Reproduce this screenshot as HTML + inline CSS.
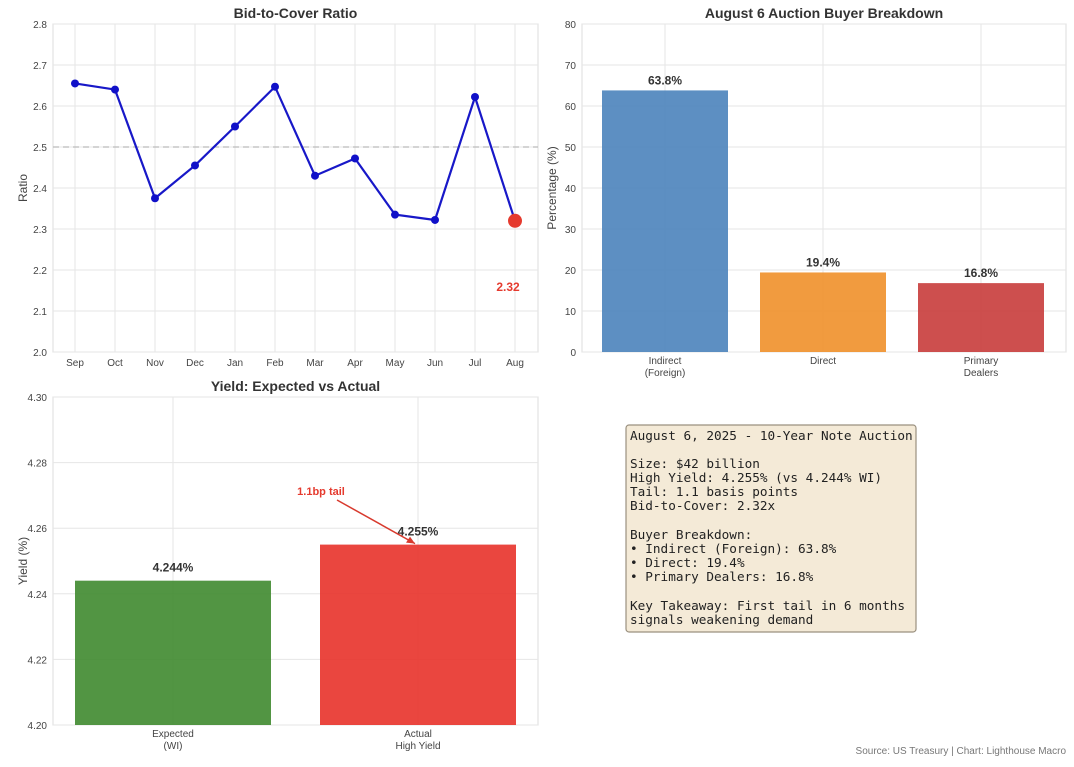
<!DOCTYPE html>
<html><head><meta charset="utf-8"><style>
html,body{margin:0;padding:0;background:#fff}
svg{display:block;font-family:"Liberation Sans",sans-serif}
</style></head><body>
<svg id="root" width="1074" height="767" viewBox="0 0 1074 767" xmlns="http://www.w3.org/2000/svg">
<rect width="1074" height="767" fill="#fff"/>
<g id="p1"></g>
<g id="p2"></g>
<g id="p3"></g>
<g>
<rect x="626" y="425" width="290" height="207" rx="3" fill="#f4ead7" stroke="#9a907f" stroke-width="1.2"/>
<text font-family="'DejaVu Sans Mono','Liberation Mono',monospace" font-size="12.7" fill="#222">
<tspan x="630" y="440">August 6, 2025 - 10-Year Note Auction</tspan>
<tspan x="630" y="468">Size: $42 billion</tspan>
<tspan x="630" y="482">High Yield: 4.255% (vs 4.244% WI)</tspan>
<tspan x="630" y="496">Tail: 1.1 basis points</tspan>
<tspan x="630" y="510">Bid-to-Cover: 2.32x</tspan>
<tspan x="630" y="539">Buyer Breakdown:</tspan>
<tspan x="630" y="553">• Indirect (Foreign): 63.8%</tspan>
<tspan x="630" y="567">• Direct: 19.4%</tspan>
<tspan x="630" y="581">• Primary Dealers: 16.8%</tspan>
<tspan x="630" y="610">Key Takeaway: First tail in 6 months</tspan>
<tspan x="630" y="624">signals weakening demand</tspan>
</text>
</g>
<text x="1066" y="754" text-anchor="end" font-size="10" fill="#777">Source: US Treasury | Chart: Lighthouse Macro</text>
</svg>
<script>
const months=["Sep","Oct","Nov","Dec","Jan","Feb","Mar","Apr","May","Jun","Jul","Aug"];
const btc=[2.655,2.64,2.375,2.455,2.55,2.647,2.43,2.472,2.335,2.322,2.622,2.32];
const btcTicks=[2.0,2.1,2.2,2.3,2.4,2.5,2.6,2.7,2.8];
const buyers=["Indirect\n(Foreign)","Direct","Primary\nDealers"];
const buyerPct=[63.8,19.4,16.8];
const pctTicks=[0,10,20,30,40,50,60,70,80];
const yieldCats=["Expected\n(WI)","Actual\nHigh Yield"];
const yieldVals=[4.244,4.255];
const yieldTicks=[4.20,4.22,4.24,4.26,4.28,4.30];
const NS="http://www.w3.org/2000/svg";
function mk(p,tag,at,txt){const e=document.createElementNS(NS,tag);for(const k in at)e.setAttribute(k,at[k]);if(txt!=null)e.textContent=txt;p.appendChild(e);return e;}
function frame(g,L,T,R,B,title,ylabel){
  mk(g,"rect",{x:L,y:T,width:R-L,height:B-T,fill:"#fff",stroke:"#ddd","stroke-width":1});
  const t=mk(g,"text",{x:(L+R)/2,y:T-6,"text-anchor":"middle","font-size":14,"font-weight":"bold",fill:"#333"},title);
  
  
  const yl=mk(g,"text",{x:0,y:0,transform:`translate(${L-26},${(T+B)/2}) rotate(-90)`,"text-anchor":"middle","font-size":12,fill:"#444"},ylabel);
  
  
}
function yTicks(g,L,R,ys,ticks,fmt){
  ticks.forEach(v=>{const y=ys(v);
    mk(g,"line",{x1:L,x2:R,y1:y,y2:y,stroke:"#e6e6e6"});
    const t=mk(g,"text",{x:L-6,y:y+4,"text-anchor":"end","font-size":10,fill:"#444"},fmt(v));
    
    
  });
}
function xLabel(g,x,y,s){s.split("\n").forEach((l,i)=>{const t=mk(g,"text",{x:x,y:y+i*12,"text-anchor":"middle","font-size":10,fill:"#444"},l);
  
  });}
// Panel 1
(function(){
  const g=document.getElementById("p1"),L=53,T=24,R=538,B=352;
  frame(g,L,T,R,B,"Bid-to-Cover Ratio","Ratio");
  const ys=v=>B-(v-2.0)/0.8*(B-T), xs=i=>75+i*40;
  yTicks(g,L,R,ys,btcTicks,v=>v.toFixed(1));
  months.forEach((m,i)=>{mk(g,"line",{x1:xs(i),x2:xs(i),y1:T,y2:B,stroke:"#e6e6e6"});xLabel(g,xs(i),B+14,m);});
  mk(g,"line",{x1:L,x2:R,y1:ys(2.5),y2:ys(2.5),stroke:"#bbb","stroke-dasharray":"6,4","stroke-width":1.2});
  const line=mk(g,"polyline",{points:btc.map((v,i)=>xs(i)+","+ys(v)).join(" "),fill:"none",stroke:"#1818c8","stroke-width":2.2});
  
  
  btc.forEach((v,i)=>{if(i<btc.length-1){const c=mk(g,"circle",{cx:xs(i),cy:ys(v),r:4,fill:"#1010c8"});
    
    }});
  const n=btc.length-1;
  const c=mk(g,"circle",{cx:xs(n),cy:ys(btc[n]),r:7,fill:"#e53a2e"});
  
  
  const lb=mk(g,"text",{x:xs(n)-7,y:291,"text-anchor":"middle","font-size":12,"font-weight":"bold",fill:"#e53a2e"},btc[n].toFixed(2));
  
  
})();
// Panel 2
(function(){
  const g=document.getElementById("p2"),L=582,T=24,R=1066,B=352;
  frame(g,L,T,R,B,"August 6 Auction Buyer Breakdown","Percentage (%)");
  const ys=v=>B-v/80*(B-T), xs=i=>665+i*158;
  yTicks(g,L,R,ys,pctTicks,v=>String(v));
  const cols=["#4f86bd","#f0922f","#c9403f"];
  buyers.forEach((b,i)=>{mk(g,"line",{x1:xs(i),x2:xs(i),y1:T,y2:B,stroke:"#e6e6e6"});
    const r=mk(g,"rect",{x:xs(i)-63,y:ys(buyerPct[i]),width:126,height:B-ys(buyerPct[i]),fill:cols[i],"fill-opacity":0.92});
    
    
    const t=mk(g,"text",{x:xs(i),y:ys(buyerPct[i])-6,"text-anchor":"middle","font-size":12,"font-weight":"bold",fill:"#333"},buyerPct[i].toFixed(1)+"%");
    
    
    xLabel(g,xs(i),B+12,b);});
})();
// Panel 3
(function(){
  const g=document.getElementById("p3"),L=53,T=397,R=538,B=725;
  frame(g,L,T,R,B,"Yield: Expected vs Actual","Yield (%)");
  const ys=v=>B-(v-4.2)/0.1*(B-T), xs=i=>173+i*245;
  yTicks(g,L,R,ys,yieldTicks,v=>v.toFixed(2));
  const cols=["#3f8a2f","#e8322a"];
  yieldCats.forEach((c,i)=>{mk(g,"line",{x1:xs(i),x2:xs(i),y1:T,y2:B,stroke:"#e6e6e6"});
    const r=mk(g,"rect",{x:xs(i)-98,y:ys(yieldVals[i]),width:196,height:B-ys(yieldVals[i]),fill:cols[i],"fill-opacity":0.9});
    
    
    const t=mk(g,"text",{x:xs(i),y:ys(yieldVals[i])-9,"text-anchor":"middle","font-size":12,"font-weight":"bold",fill:"#333"},yieldVals[i].toFixed(3)+"%");
    
    
    xLabel(g,xs(i),B+12,c);});
  const ax=xs(1)-3, ay=ys(yieldVals[1])-1;
  mk(g,"line",{x1:337,y1:500,x2:ax,y2:ay,stroke:"#d83a2e","stroke-width":1.5});
  mk(g,"polygon",{points:`${ax},${ay} ${ax-9},${ay-1} ${ax-5},${ay-7}`,fill:"#d83a2e"});
  const a=mk(g,"text",{x:321,y:495,"text-anchor":"middle","font-size":11,"font-weight":"bold",fill:"#e53a2e"},"1.1bp tail");
  
  
})();
</script>
</body></html>
